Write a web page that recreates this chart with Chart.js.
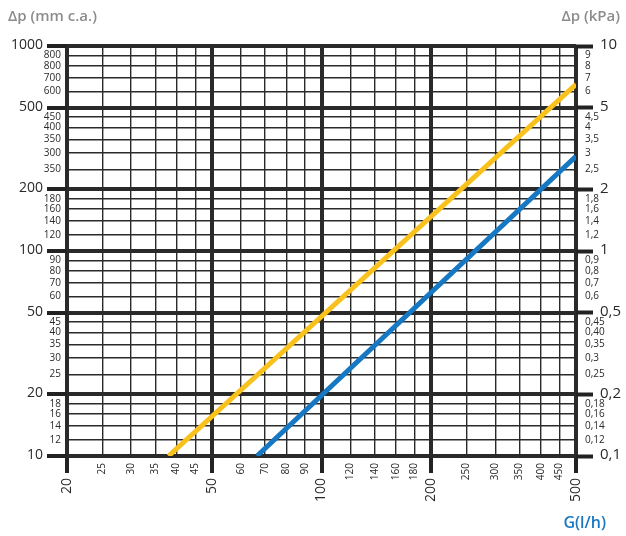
<!DOCTYPE html>
<html>
<head>
<meta charset="utf-8">
<script src="https://cdn.jsdelivr.net/npm/chart.js@4"></script>
<style>
  body { margin:0; background:#fff; }
  #wrap { position:relative; width:626px; height:536px; }
</style>
</head>
<body>
<div id="wrap"><canvas id="chart" width="626" height="536"></canvas></div>
<script>
// flow G (l/h) on x, pressure drop (mm c.a.) on y, log-log
const yellowFlow = [38, 500];
const yellowDp   = [10, 650];
const blueFlow   = [66.5, 500];
const blueDp     = [10, 290];

const xTicks  = [20,25,30,35,40,45,50,60,70,80,90,100,120,140,160,180,200,250,300,350,400,450,500];
const xMajor  = [20,50,100,200,500];
const yTicks  = [1000,900,800,700,600,500,450,400,350,300,250,200,180,160,140,120,100,90,80,70,60,50,45,40,35,30,25,20,18,16,14,12,10];
const yLabels = ['1000','800','800','700','600','500','450','400','350','300','350','200','180','160','140','120','100','90','80','70','60','50','45','40','35','30','25','20','18','16','14','12','10'];
const yMajor  = [10,20,50,100,200,500,1000];
const kpaTicks  = [10,9,8,7,6,5,4.5,4,3.5,3,2.5,2,1.8,1.6,1.4,1.2,1,0.9,0.8,0.7,0.6,0.5,0.45,0.4,0.35,0.3,0.25,0.2,0.18,0.16,0.14,0.12,0.1];
const kpaLabels = ['10','9','8','7','6','5','4,5','4','3,5','3','2,5','2','1,8','1,6','1,4','1,2','1','0,9','0,8','0,7','0,6','0,5','0,45','0,40','0,35','0,3','0,25','0,2','0,18','0,16','0,14','0,12','0,1'];
const kpaMajor  = [0.1,0.2,0.5,1,2,5,10];

const FONT = '"Open Sans", "Noto Sans", sans-serif';
const isMajor = (list, v) => list.some(m => Math.abs(m - v) < 1e-9);

// all axis labels drawn through the scales
const axisLabels = {
  id: 'axisLabels',
  afterDraw(chart) {
    const { ctx, chartArea: a, scales: { x, y, y2 } } = chart;
    ctx.save();
    ctx.fillStyle = '#2a2a2a';
    ctx.textBaseline = 'middle';

    ctx.textAlign = 'right';
    yTicks.forEach((v, i) => {
      const big = isMajor(yMajor, v);
      ctx.font = (big ? '14px ' : '10px ') + FONT;
      ctx.fillText(yLabels[i], big ? a.left - 24 : a.left - 6, y.getPixelForValue(v) - (big ? 1 : 0));
    });

    ctx.textAlign = 'left';
    kpaTicks.forEach((v, i) => {
      const big = isMajor(kpaMajor, v);
      ctx.font = (big ? '15px ' : '10px ') + FONT;
      ctx.fillText(kpaLabels[i], big ? a.right + 24 : a.right + 9, y2.getPixelForValue(v) - (big ? 1 : 0));
    });

    xTicks.forEach(v => {
      const big = isMajor(xMajor, v);
      const px = x.getPixelForValue(v);
      ctx.save();
      ctx.translate(px, big ? a.bottom + 22 : a.bottom + 7);
      ctx.rotate(-Math.PI / 2);
      ctx.textAlign = 'right';
      ctx.font = (big ? '14px ' : '10px ') + FONT;
      ctx.fillText(String(v), 0, 0);
      ctx.restore();
    });

    ctx.fillStyle = '#8c8c8c';
    ctx.font = '600 15px ' + FONT;
    ctx.textAlign = 'left';
    ctx.fillText('Δp (mm c.a.)', 8, 17);
    ctx.textAlign = 'right';
    ctx.fillText('Δp (kPa)', 620, 17);

    ctx.fillStyle = '#1a78c2';
    ctx.font = '600 16px ' + FONT;
    ctx.fillText('G(l/h)', 606, 523);
    ctx.restore();
  }
};

const gridWidth = list => c => (c.tick && isMajor(list, c.tick.value)) ? 4 : 1.4;
const tickColor = list => c => (c.tick && isMajor(list, c.tick.value)) ? '#222' : 'rgba(0,0,0,0)';

new Chart(document.getElementById('chart'), {
  type: 'line',
  data: {
    datasets: [
      { data: yellowFlow.map((f, i) => ({ x: f, y: yellowDp[i] })), borderColor: '#f9c11c', borderWidth: 5, pointRadius: 0, borderCapStyle: 'butt' },
      { data: blueFlow.map((f, i) => ({ x: f, y: blueDp[i] })), borderColor: '#1677c3', borderWidth: 5, pointRadius: 0, borderCapStyle: 'butt' }
    ]
  },
  options: {
    responsive: false,
    animation: false,
    layout: { padding: { left: 67, right: 50, top: 46, bottom: 80 } },
    plugins: { legend: { display: false }, tooltip: { enabled: false } },
    scales: {
      x: {
        type: 'logarithmic', min: 20, max: 500,
        afterBuildTicks: s => { s.ticks = xTicks.map(v => ({ value: v })); },
        afterFit: s => { s.height = 0; },
        ticks: { display: false },
        border: { display: false },
        grid: { color: '#2a2a2a', lineWidth: gridWidth(xMajor), tickLength: 17, tickColor: tickColor(xMajor), tickWidth: 4 }
      },
      y: {
        type: 'logarithmic', min: 10, max: 1000,
        afterBuildTicks: s => { s.ticks = yTicks.map(v => ({ value: v })); },
        afterFit: s => { s.width = 0; },
        ticks: { display: false },
        border: { display: false },
        grid: { color: '#2a2a2a', lineWidth: gridWidth(yMajor), tickLength: 20, tickColor: tickColor(yMajor), tickWidth: 4 }
      },
      y2: {
        type: 'logarithmic', position: 'right', min: 0.1, max: 10,
        afterBuildTicks: s => { s.ticks = kpaMajor.map(v => ({ value: v })); },
        afterFit: s => { s.width = 0; },
        ticks: { display: false },
        border: { display: false },
        grid: { drawOnChartArea: false, tickLength: 17, tickColor: '#222', tickWidth: 4 }
      }
    }
  },
  plugins: [axisLabels]
});
</script>
</body>
</html>
